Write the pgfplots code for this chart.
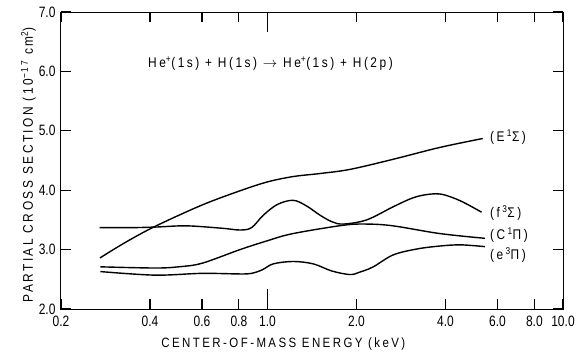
\documentclass[border=0pt]{standalone}
\usepackage{fontspec}
\setmainfont{Liberation Sans}[FakeStretch=0.8]
\newfontfamily\lblfont{Liberation Sans}[FakeStretch=0.85, LetterSpace=18]
\usepackage{pgfplots}
\pgfplotsset{compat=1.18}
\begin{document}
\begin{tikzpicture}
\path[use as bounding box] (-61pt,-47pt) rectangle (517pt,309pt);
\begin{axis}[
  scale only axis, width=502pt, height=297pt,
  xmode=log, xmin=0.2, xmax=10, ymin=2, ymax=7,
  xtick={0.2,0.4,0.6,0.8,2,4,6,8,10},
  xticklabels={0.2,0.4,0.6,0.8,2.0,4.0,6.0,8.0,10.0},
  extra x ticks={1}, extra x tick labels={1.0},
  extra x tick style={major tick length=20pt, major tick style={line width=1.2pt, draw=black}},
  minor xtick={},
  ytick={2,3,4,5,6,7},
  yticklabels={2.0,3.0,4.0,5.0,6.0,7.0},
  tick align=inside, tick pos=both,
  major tick length=10pt,
  axis line style={line width=1pt},
  major tick style={line width=1.2pt, draw=black},
  tick label style={font=\fontsize{15}{15}\selectfont},
  xticklabel style={yshift=-3pt},
  yticklabel style={xshift=-2pt},
  /pgf/number format/assume math mode=true,
  xlabel={CENTER-OF-MASS ENERGY (keV)},
  xlabel style={font=\lblfont\fontsize{13.5}{14}\selectfont, at={(axis description cs:0.443,0)}, anchor=base, yshift=-38pt},
  ylabel={PARTIAL CROSS SECTION (10\textsuperscript{−17} cm\textsuperscript{2})},
  ylabel style={font=\lblfont\fontsize{14}{14}\selectfont, at={(axis description cs:0,0.485)}, anchor=base, yshift=28pt},
]
\addplot[black, line width=1.4pt, smooth, tension=0.55] coordinates {
 (0.271,2.86) (0.33,3.12) (0.416,3.39) (0.6,3.75) (0.807,3.99) (1.0,4.14) (1.222,4.23) (1.5,4.28) (1.9,4.35) (2.66,4.52) (3.83,4.72) (5.35,4.87)};
\addplot[black, line width=1.4pt, smooth, tension=0.55] coordinates {
 (0.27,3.37) (0.35,3.37) (0.42,3.38) (0.532,3.40) (0.7,3.36) (0.807,3.33) (0.883,3.37) (0.968,3.58) (1.08,3.76) (1.22,3.83) (1.35,3.74) (1.505,3.58) (1.65,3.47) (1.805,3.43) (2.165,3.50) (2.66,3.72) (3.1,3.87) (3.5,3.93) (3.9,3.93) (4.5,3.82) (5.3,3.63)};
\addplot[black, line width=1.4pt, smooth, tension=0.55] coordinates {
 (0.272,2.71) (0.416,2.69) (0.5,2.71) (0.6,2.77) (0.807,3.00) (1.0,3.15) (1.22,3.27) (1.805,3.41) (2.165,3.43) (2.66,3.40) (3.83,3.27) (5.44,3.19)};
\addplot[black, line width=1.4pt, smooth, tension=0.55] coordinates {
 (0.272,2.63) (0.416,2.57) (0.6,2.60) (0.807,2.59) (0.883,2.60) (0.96,2.66) (1.046,2.76) (1.22,2.80) (1.428,2.76) (1.65,2.64) (1.90,2.58) (2.05,2.62) (2.28,2.71) (2.66,2.91) (3.2,3.01) (3.83,3.06) (4.5,3.08) (5.44,3.05)};
\node[anchor=base west, font=\lblfont\fontsize{14}{14}\selectfont, inner sep=0pt] at (axis cs:0.394,6.07) {He\textsuperscript{+}(1s) + H(1s) $\rightarrow$ He\textsuperscript{+}(1s) + H(2p)};
\node[anchor=west, font=\lblfont\fontsize{14}{14}\selectfont, inner sep=0pt] at (axis cs:5.66,4.90) {(E\,\textsuperscript{1}Σ)};
\node[anchor=west, font=\lblfont\fontsize{14}{14}\selectfont, inner sep=0pt] at (axis cs:5.66,3.62) {(f\,\textsuperscript{3}Σ)};
\node[anchor=west, font=\lblfont\fontsize{14}{14}\selectfont, inner sep=0pt] at (axis cs:5.66,3.25) {(C\,\textsuperscript{1}Π)};
\node[anchor=west, font=\lblfont\fontsize{14}{14}\selectfont, inner sep=0pt] at (axis cs:5.66,2.91) {(e\,\textsuperscript{3}Π)};
\end{axis}
\end{tikzpicture}
\end{document}
